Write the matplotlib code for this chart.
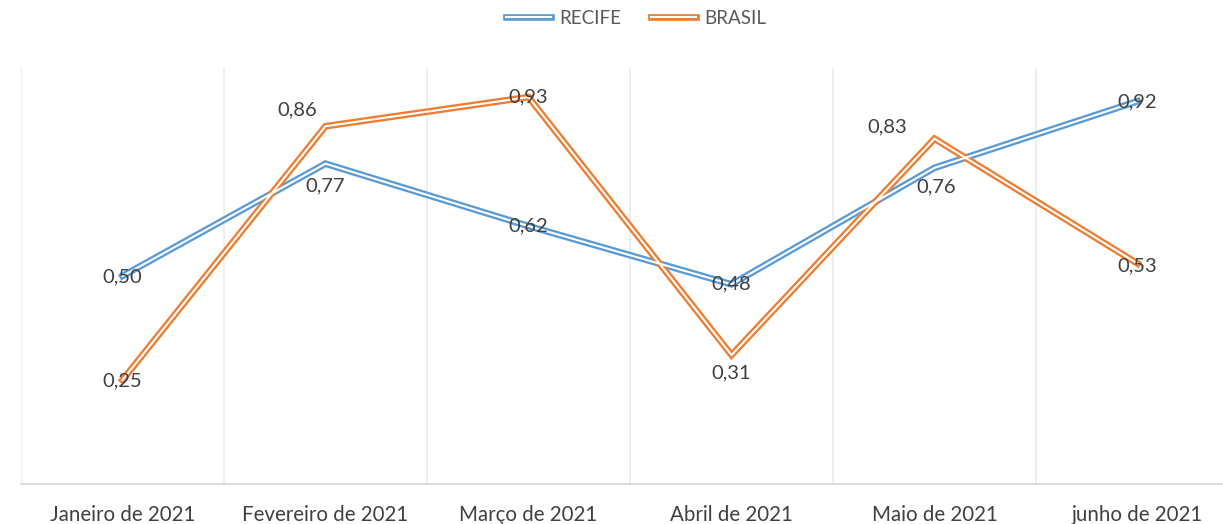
import matplotlib.pyplot as plt
from matplotlib.lines import Line2D
from matplotlib.legend_handler import HandlerTuple

meses = ["Janeiro de 2021", "Fevereiro de 2021", "Março de 2021",
         "Abril de 2021", "Maio de 2021", "junho de 2021"]
recife = [0.50, 0.77, 0.62, 0.48, 0.76, 0.92]
brasil = [0.25, 0.86, 0.93, 0.31, 0.83, 0.53]

# label offsets in pixels (dx, dy)
off_recife = [(0, -1), (0, -22), (0, 0), (0, 0), (2, -19), (0, -1)]
off_brasil = [(0, -1), (-28, 16), (0, 0), (0, -18), (-47, 12), (0, -2)]

BLUE = "#5B9BD5"
ORANGE = "#ED7D31"
TXT = "#404040"
plt.rcParams['font.family'] = ['Lato', 'DejaVu Sans']

fig = plt.figure(figsize=(12.23, 5.24), dpi=100)
ax = fig.add_axes([21 / 1223, 40 / 524, 1218 / 1223, 416 / 524])

x = list(range(len(meses)))
handles = []
for vals, col, offs in [(recife, BLUE, off_recife), (brasil, ORANGE, off_brasil)]:
    ax.plot(x, vals, color=col, lw=4.8, solid_joinstyle='miter', zorder=3)
    ax.plot(x, vals, color="white", lw=1.5, solid_joinstyle='miter', zorder=4)
    for xi, v, (dx, dy) in zip(x, vals, offs):
        ax.annotate(f"{v:.2f}".replace(".", ","), (xi, v), xytext=(dx, dy),
                    textcoords="offset pixels", ha="center", va="center",
                    fontsize=14.5, color=TXT, zorder=5)
    handles.append((Line2D([], [], color=col, lw=4.8),
                    Line2D([], [], color="white", lw=1.5)))

ax.set_xlim(-0.5, 5.5)
ax.set_ylim(0, 1)
ax.set_yticks([])
ax.set_xticks(x)
ax.set_xticklabels(meses, fontsize=14.8, color=TXT)
ax.set_xticks([i - 0.5 for i in range(7)], minor=True)
ax.tick_params(axis="x", which="both", length=0, pad=15)
ax.grid(which="minor", axis="x", color="#EBEBEB", lw=1.2)
for s in ["top", "right", "left"]:
    ax.spines[s].set_visible(False)
ax.spines["bottom"].set_color("#D9D9D9")
ax.spines["bottom"].set_linewidth(1.3)

fig.legend(handles, ["RECIFE", "BRASIL"], loc="center", bbox_to_anchor=(0.52, 0.965),
           ncol=2, frameon=False, fontsize=13.5, labelcolor="#595959",
           handler_map={tuple: HandlerTuple(ndivide=1)}, handlelength=2.4,
           columnspacing=1.6, handletextpad=0.45)

fig.savefig("out.png", dpi=100)
